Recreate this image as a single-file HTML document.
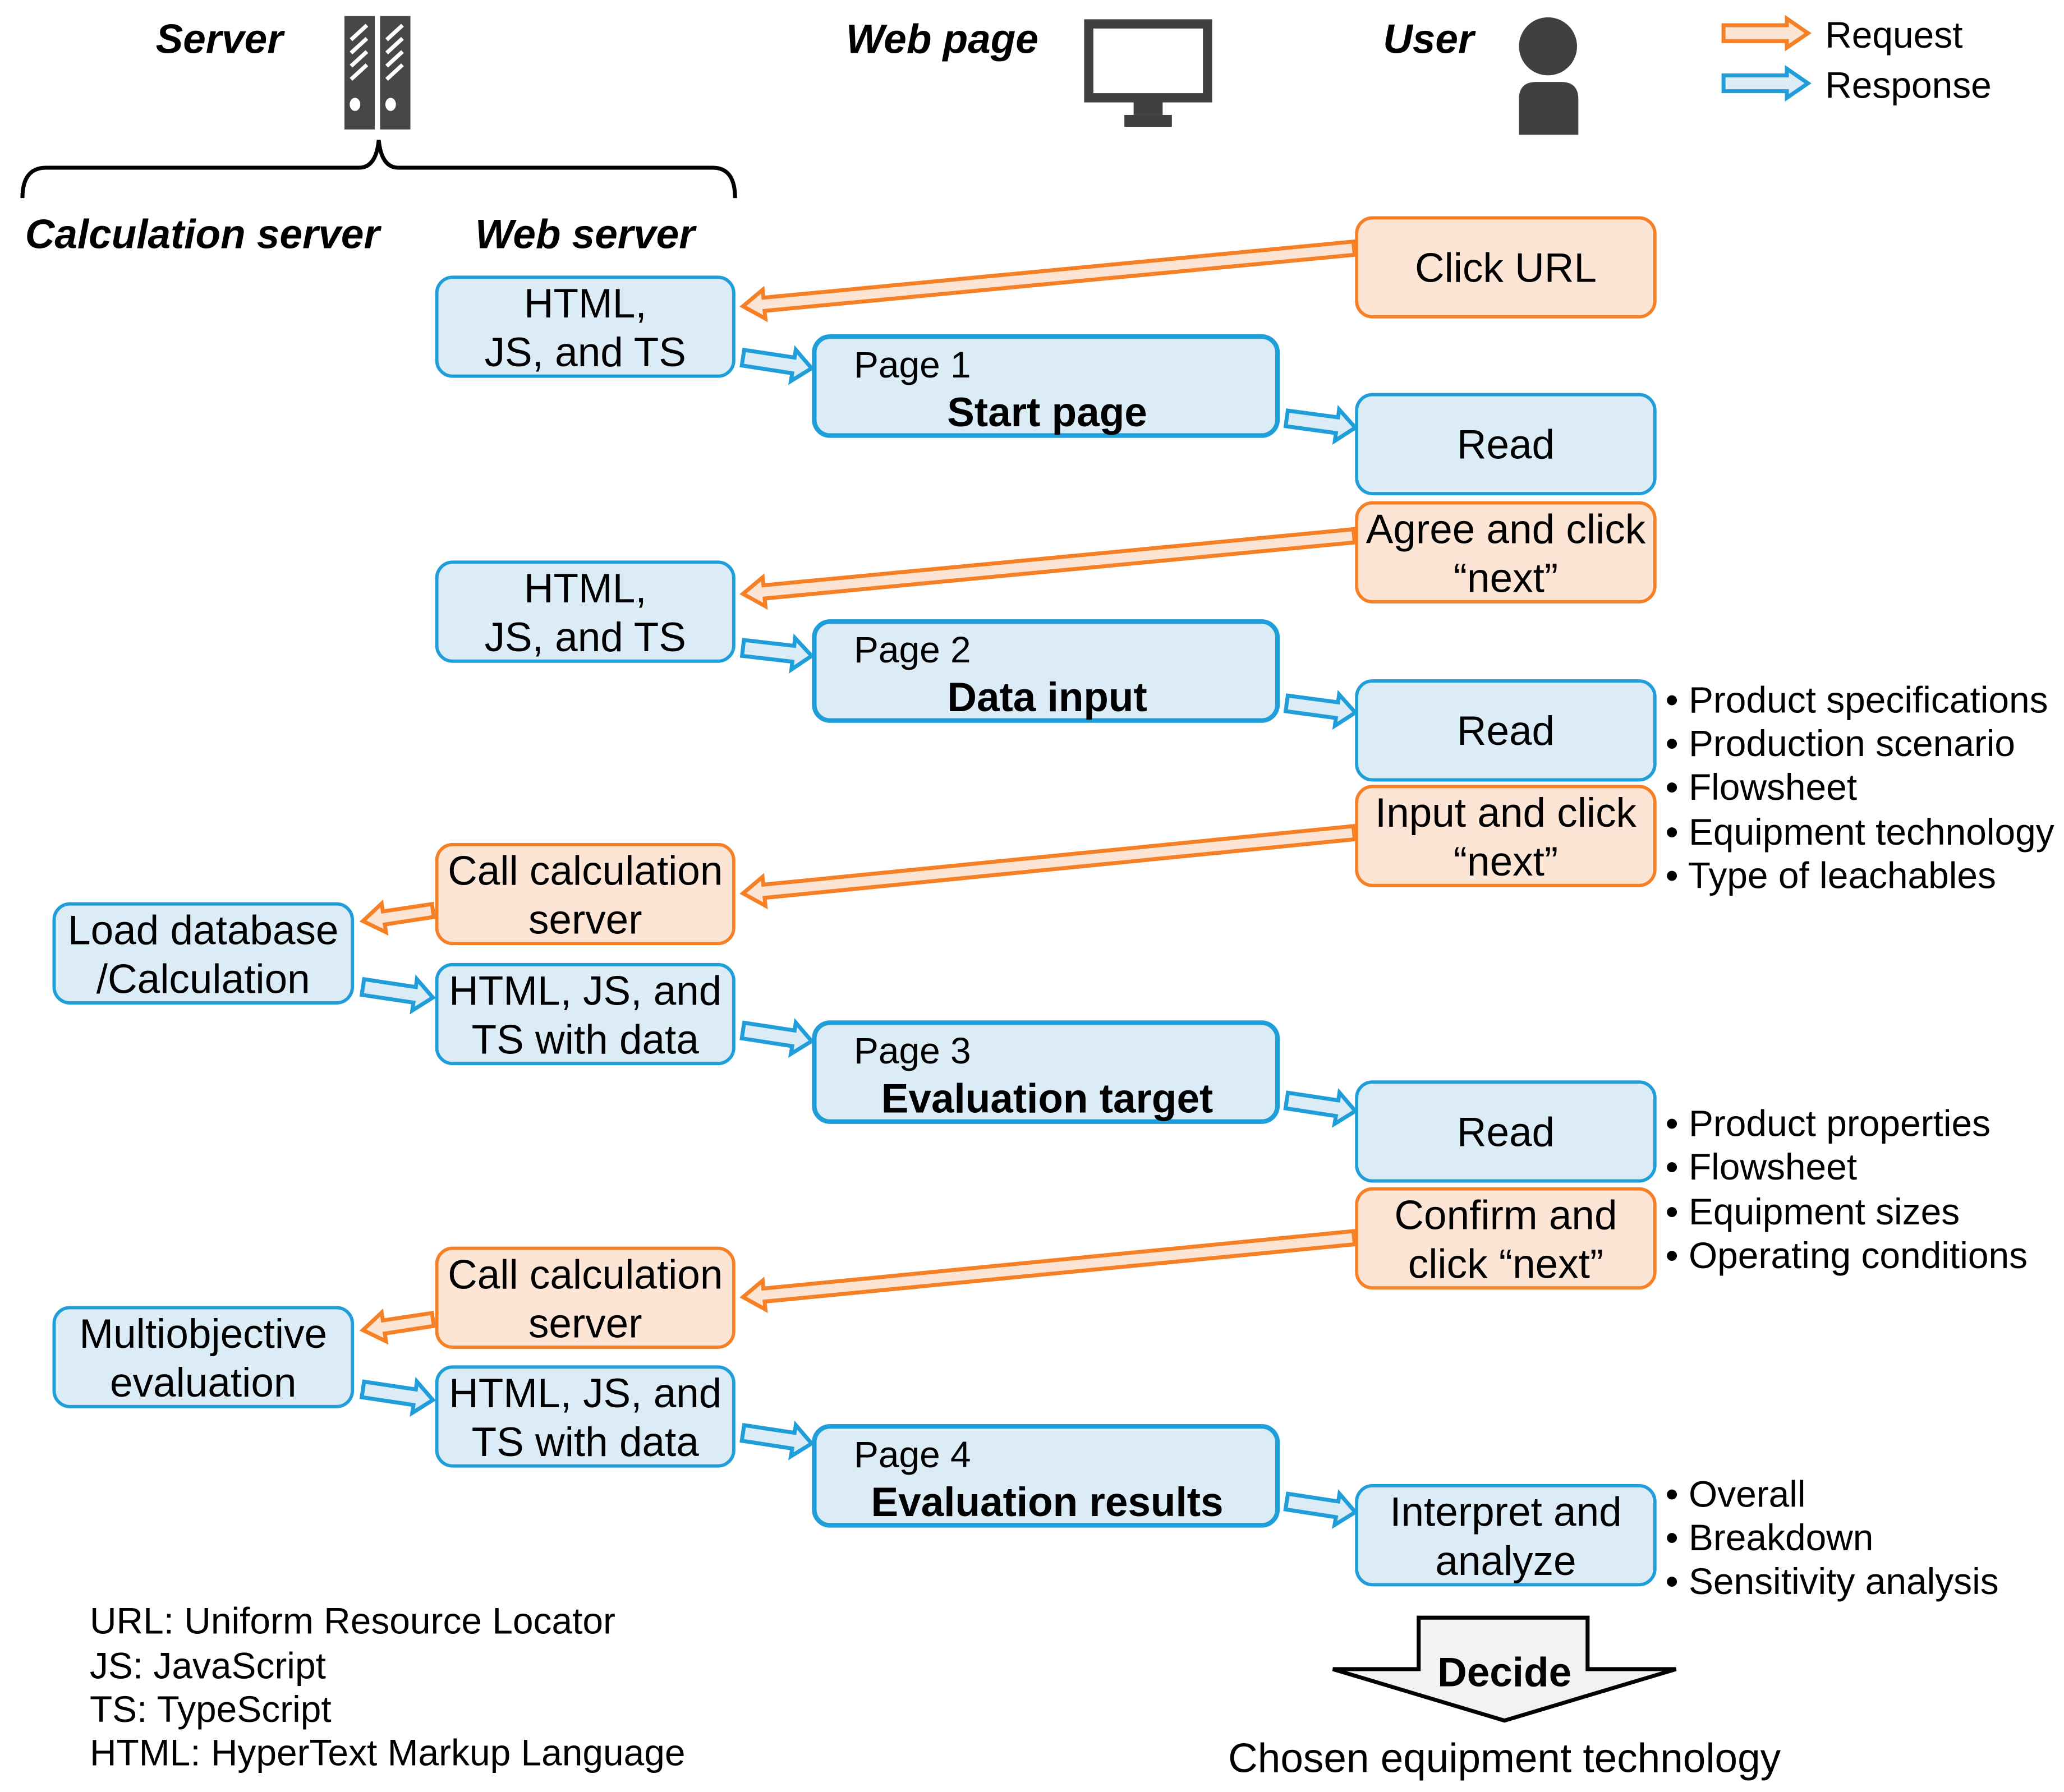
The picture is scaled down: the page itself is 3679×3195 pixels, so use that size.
<!DOCTYPE html>
<html><head><meta charset="utf-8"><style>
html,body{margin:0;padding:0;background:#fff}
svg{display:block}
text{font-family:"Liberation Sans",Arial,sans-serif;fill:#000}
</style></head><body>
<svg id="s" width="3679" height="3195" viewBox="0 0 1564 1358" xmlns="http://www.w3.org/2000/svg">
<g id="arrows"></g>
<g font-weight="bold" font-style="italic" font-size="31">
<text x="118" y="40">Server</text>
<text x="641" y="40">Web page</text>
<text x="1048" y="40">User</text>
<text x="19" y="188">Calculation server</text>
<text x="360" y="188">Web server</text>
</g>
<rect x="261" y="12" width="23" height="86" fill="#474747"/>
<rect x="288" y="12" width="23" height="86" fill="#474747"/>
<g stroke="#fff" stroke-width="3">
<line x1="266" y1="30" x2="278" y2="19"/><line x1="266" y1="40" x2="278" y2="29"/><line x1="266" y1="50" x2="278" y2="39"/><line x1="266" y1="60" x2="278" y2="49"/>
<line x1="293" y1="30" x2="305" y2="19"/><line x1="293" y1="40" x2="305" y2="29"/><line x1="293" y1="50" x2="305" y2="39"/><line x1="293" y1="60" x2="305" y2="49"/>
</g>
<ellipse cx="269" cy="79" rx="4" ry="5" fill="#fff"/><ellipse cx="296" cy="79" rx="4" ry="5" fill="#fff"/>
<path d="M17,150 Q17,127 35,127 L272,127 Q285,127 287,106 Q289,127 302,127 L540,127 Q557,127 557,150" fill="none" stroke="#000" stroke-width="3"/>
<rect x="825" y="18" width="90" height="56" fill="none" stroke="#404040" stroke-width="7"/>
<rect x="859" y="77" width="22" height="10" fill="#404040"/>
<rect x="852" y="87" width="36" height="9" fill="#404040"/>
<circle cx="1173" cy="35" r="22" fill="#404040"/>
<path d="M1151,102 L1151,75 Q1151,62 1164,62 L1183,62 Q1196,62 1196,75 L1196,102 Z" fill="#404040"/>
<g font-size="28"><text x="1383" y="36">Request</text><text x="1383" y="74">Response</text></g>
<g id="boxes"></g>
<g font-size="28">
<text x="1262" y="540">• Product specifications</text>
<text x="1262" y="573">• Production scenario</text>
<text x="1262" y="606">• Flowsheet</text>
<text x="1262" y="640">• Equipment technology</text>
<text x="1262" y="673">• Type of leachables</text>
<text x="1262" y="861">• Product properties</text>
<text x="1262" y="894">• Flowsheet</text>
<text x="1262" y="928">• Equipment sizes</text>
<text x="1262" y="961">• Operating conditions</text>
<text x="1262" y="1142">• Overall</text>
<text x="1262" y="1175">• Breakdown</text>
<text x="1262" y="1208">• Sensitivity analysis</text>
<text x="68" y="1238">URL: Uniform Resource Locator</text>
<text x="68" y="1272">JS: JavaScript</text>
<text x="68" y="1305">TS: TypeScript</text>
<text x="68" y="1338">HTML: HyperText Markup Language</text>
</g>
<path d="M1075,1226 L1203,1226 L1203,1265 L1270,1265 L1140,1304 L1010,1265 L1075,1265 Z" fill="#f2f2f2" stroke="#000" stroke-width="3"/>
<text x="1140" y="1278" font-size="31" font-weight="bold" text-anchor="middle">Decide</text>
<text x="1140" y="1343" font-size="31" text-anchor="middle">Chosen equipment technology</text>
</svg>
<script>
var NS="http://www.w3.org/2000/svg";
var OR={s:"#f58025",f:"#fde5d6"},BL={s:"#1f9ed9",f:"#dbecf7"};
function arrow(x1,y1,x2,y2,c,hw,hl,hh){
 hw=hw||5;hl=hl||16;hh=hh||11;
 var dx=x2-x1,dy=y2-y1,L=Math.hypot(dx,dy),ux=dx/L,uy=dy/L,px=-uy,py=ux;
 var bx=x2-ux*hl,by=y2-uy*hl;
 var pts=[[x1+px*hw,y1+py*hw],[bx+px*hw,by+py*hw],[bx+px*hh,by+py*hh],[x2,y2],[bx-px*hh,by-py*hh],[bx-px*hw,by-py*hw],[x1-px*hw,y1-py*hw]];
 var p=document.createElementNS(NS,"polygon");
 p.setAttribute("points",pts.map(function(a){return a[0].toFixed(1)+","+a[1].toFixed(1)}).join(" "));
 p.setAttribute("fill",c.f);p.setAttribute("stroke",c.s);p.setAttribute("stroke-width","3");
 document.getElementById("arrows").appendChild(p);
}
arrow(1306,25,1370,25,OR,6,16,11);arrow(1306,63,1370,63,BL,6,16,11);
[[1026,188,563,232],[1026,406,563,450],[1026,631,563,677],[328,690,275,698],[1026,938,563,983],[328,1000,275,1008]].forEach(function(a){arrow(a[0],a[1],a[2],a[3],OR)});
[[563,271,615,279],[975,317,1027,324],[563,491,615,497],[975,533,1027,540],[563,781,615,789],[975,834,1027,842],[563,1086,615,1094],[975,1138,1027,1146],[275,748,328,756],[275,1053,328,1061]].forEach(function(a){arrow(a[0],a[1],a[2],a[3],BL,6,14,12)});
function box(x,y,w,h,c,lines,page){
 var g=document.getElementById("boxes");
 var r=document.createElementNS(NS,"rect");
 r.setAttribute("x",x);r.setAttribute("y",y);r.setAttribute("width",w);r.setAttribute("height",h);
 r.setAttribute("rx",12);r.setAttribute("fill",c.f);r.setAttribute("stroke",c.s);r.setAttribute("stroke-width",page?3.5:2.5);
 g.appendChild(r);
 function t(str,tx,ty,anchor,bold,fs){var e=document.createElementNS(NS,"text");e.setAttribute("x",tx);e.setAttribute("y",ty);e.setAttribute("font-size",fs);if(anchor)e.setAttribute("text-anchor",anchor);if(bold)e.setAttribute("font-weight","bold");e.textContent=str;g.appendChild(e);}
 if(page){t(page,x+30,y+31,null,false,28);t(lines[0],x+w/2+1,y+68,"middle",true,31);}
 else if(lines.length==1){t(lines[0],x+w/2,y+h/2+11,"middle",false,31);}
 else{t(lines[0],x+w/2,y+h/2-7,"middle",false,31);t(lines[1],x+w/2,y+h/2+30,"middle",false,31);}
}
box(1028,165,226,75,OR,["Click URL"]);
box(331,210,225,75,BL,["HTML,","JS, and TS"]);
box(617,255,351,75,BL,["Start page"],"Page 1");
box(1028,299,226,75,BL,["Read"]);
box(1028,381,226,75,OR,["Agree and click","“next”"]);
box(331,426,225,75,BL,["HTML,","JS, and TS"]);
box(617,471,351,75,BL,["Data input"],"Page 2");
box(1028,516,226,75,BL,["Read"]);
box(1028,596,226,75,OR,["Input and click","“next”"]);
box(331,640,225,75,OR,["Call calculation","server"]);
box(41,685,226,75,BL,["Load database","/Calculation"]);
box(331,731,225,75,BL,["HTML, JS, and","TS with data"]);
box(617,775,351,75,BL,["Evaluation target"],"Page 3");
box(1028,820,226,75,BL,["Read"]);
box(1028,901,226,75,OR,["Confirm and","click “next”"]);
box(331,946,225,75,OR,["Call calculation","server"]);
box(41,991,226,75,BL,["Multiobjective","evaluation"]);
box(331,1036,225,75,BL,["HTML, JS, and","TS with data"]);
box(617,1081,351,75,BL,["Evaluation results"],"Page 4");
box(1028,1126,226,75,BL,["Interpret and","analyze"]);
</script>
</body></html>
